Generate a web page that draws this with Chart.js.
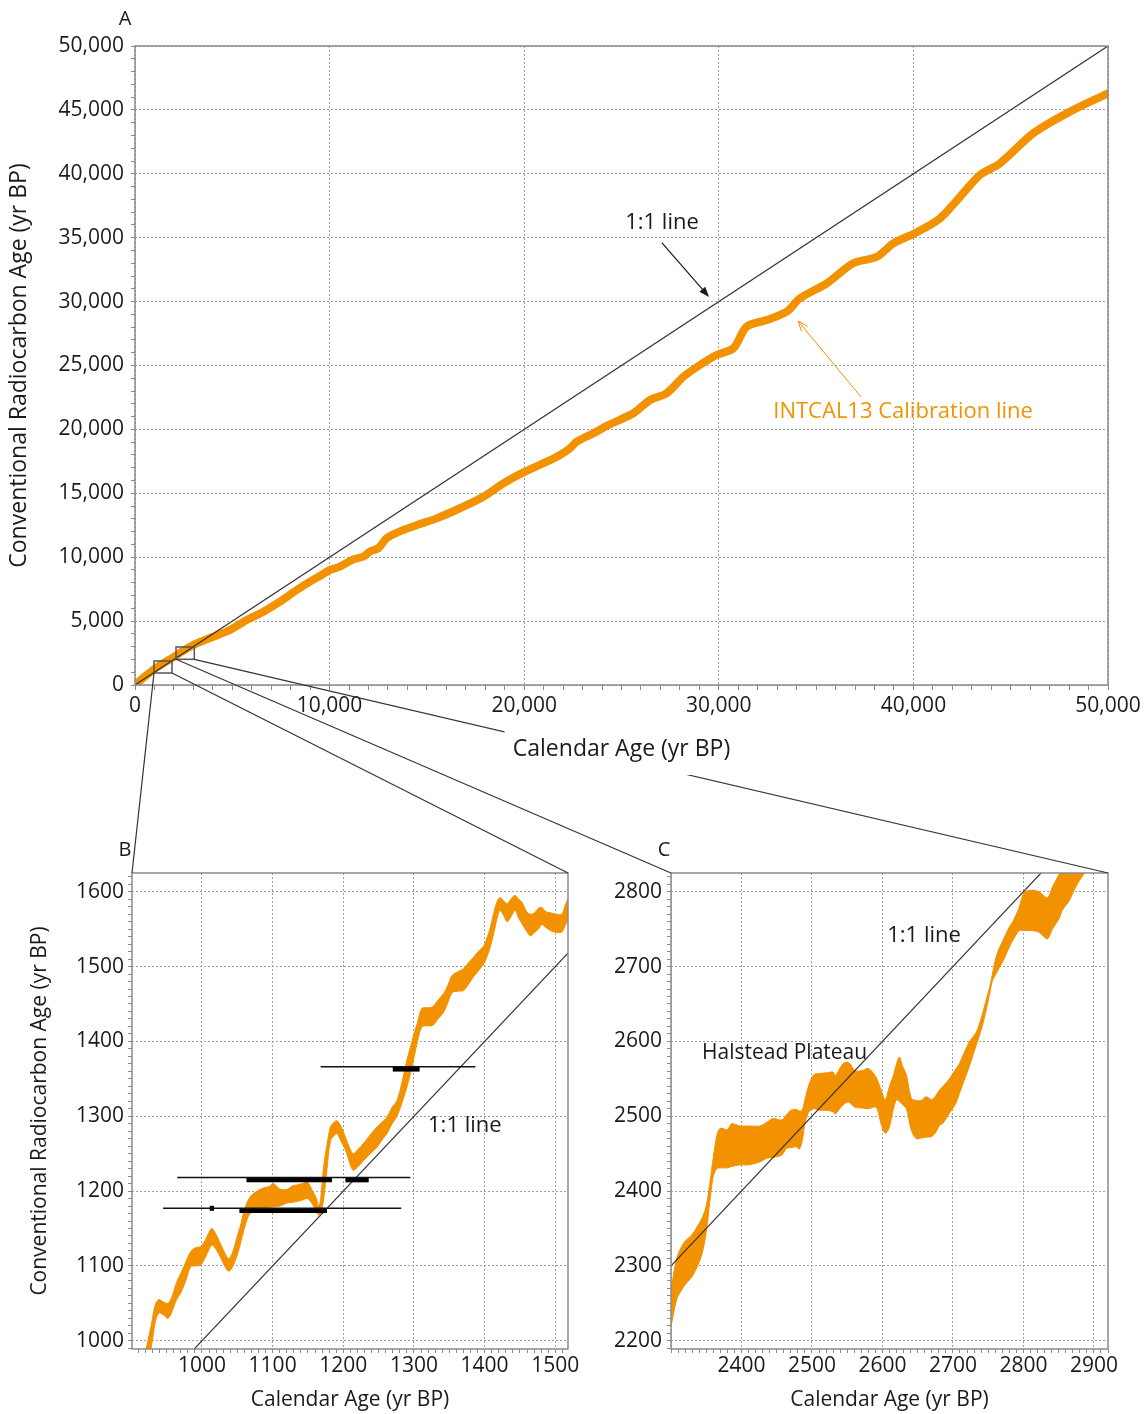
<!DOCTYPE html>
<html><head><meta charset="utf-8">
<script src="https://cdn.jsdelivr.net/npm/chart.js@4/dist/chart.umd.min.js"></script>
<style>
html,body{margin:0;padding:0;background:#fff;}
#wrap{position:relative;width:1145px;height:1414px;overflow:hidden;background:#fff;}
canvas{position:absolute;}
</style></head><body>
<div id="wrap">
<canvas id="cA" width="1145" height="790" style="left:0px;top:0px"></canvas>
<canvas id="cB" width="600" height="614" style="left:0px;top:800px"></canvas>
<canvas id="cC" width="545" height="614" style="left:600px;top:800px"></canvas>
<canvas id="ov" width="1145" height="1414" style="left:0px;top:0px;pointer-events:none"></canvas>
</div>
<script>
// ---------------- DATA ----------------
// Panel A: INTCAL13 calibration curve (calendar age vs conventional radiocarbon age)
const aCal = [0, 500, 1000, 1500, 2000, 2500, 3170, 4025, 4880, 5740, 6600, 7450, 8310, 8990, 9590, 10020, 10530, 11220, 11730, 12080, 12500, 12930, 13790, 14650, 15500, 16700, 17900, 18930, 20040, 21160, 21840, 22350, 22700, 23550, 24320, 25610, 26470, 27320, 28180, 29030, 29890, 30750, 31430, 32460, 33490, 34170, 35550, 36910, 38120, 38970, 40080, 41370, 42400, 43420, 44450, 46160, 47880, 50000];
const aRc  = [0, 650, 1250, 1750, 2200, 2700, 3260, 3780, 4300, 5090, 5740, 6520, 7430, 8090, 8610, 9000, 9260, 9830, 10040, 10450, 10700, 11480, 12130, 12600, 13040, 13830, 14730, 15780, 16690, 17470, 18000, 18520, 19040, 19690, 20340, 21260, 22300, 22830, 24120, 25040, 25820, 26350, 28040, 28560, 29210, 30260, 31430, 33000, 33510, 34560, 35350, 36520, 38210, 39910, 40820, 43170, 44730, 46300];

// Panel B: curve envelope 900-1520 cal BP
const bCal   = [920,928,934,939,945,952,958,964,970,977,984,990,998,1005,1010,1014,1020,1026,1032,1038,1044,1050,1054,1060,1068,1078,1087,1095,1101,1110,1120,1128,1134,1142,1149,1156,1162,1165,1168,1172,1177,1182,1187,1191,1196,1203,1209,1214,1220,1229,1238,1248,1256,1262,1269,1276,1283,1290,1295,1300,1305,1311,1318,1326,1334,1342,1348,1354,1362,1370,1377,1384,1391,1399,1404,1408,1413,1418,1422,1427,1432,1437,1443,1448,1453,1459,1465,1471,1476,1481,1487,1493,1500,1509,1514,1518,1522];
const bUpper = [985,1020,1048,1055,1052,1050,1060,1078,1090,1105,1119,1124,1126,1135,1145,1150,1142,1130,1118,1110,1120,1140,1152,1175,1192,1200,1204,1206,1210,1203,1202,1207,1208,1210,1212,1201,1190,1180,1190,1232,1262,1286,1292,1294,1288,1272,1258,1250,1255,1264,1275,1286,1293,1299,1312,1321,1345,1375,1392,1410,1425,1444,1445,1446,1455,1464,1475,1488,1493,1497,1505,1512,1520,1528,1540,1552,1572,1588,1592,1588,1584,1590,1595,1590,1586,1574,1570,1572,1578,1579,1573,1572,1570,1570,1582,1590,1595];
const bLower = [960,990,1025,1037,1035,1030,1040,1055,1064,1080,1099,1100,1101,1112,1122,1128,1122,1112,1100,1093,1100,1115,1128,1150,1170,1173,1175,1178,1179,1180,1184,1185,1186,1188,1190,1183,1172,1168,1170,1188,1230,1268,1274,1277,1268,1255,1238,1228,1232,1241,1250,1259,1270,1277,1290,1300,1318,1339,1357,1378,1400,1419,1421,1421,1430,1439,1452,1465,1467,1468,1476,1486,1494,1504,1515,1526,1545,1566,1575,1568,1560,1566,1575,1565,1557,1548,1541,1546,1550,1556,1552,1548,1546,1546,1555,1561,1565];

// Panel B: radiocarbon measurements (age +/- range) and calibrated ranges
const bMeasRc   = [1366, 1218, 1177];
const bMeasFrom = [1168, 965, 945];
const bMeasTo   = [1387, 1295, 1282];
const bRangeRc   = [1363, 1215, 1215, 1174, 1177];
const bRangeFrom = [1270, 1063, 1203, 1053, 1011];
const bRangeTo   = [1308, 1184, 1236, 1177, 1017];

// Panel C: curve envelope 2300-2920 cal BP (Hallstatt plateau)
const cCal   = [2300,2308,2315,2320,2330,2340,2345,2350,2355,2360,2365,2370,2380,2386,2398,2410,2426,2436,2445,2457,2464,2470,2478,2482,2486,2490,2495,2502,2511,2520,2530,2533,2544,2552,2561,2572,2580,2591,2598,2604,2610,2615,2620,2624,2629,2634,2641,2648,2655,2662,2670,2676,2681,2686,2695,2704,2709,2716,2723,2733,2737,2742,2747,2752,2756,2761,2766,2771,2780,2785,2794,2801,2813,2822,2834,2841,2846,2851,2855,2865,2874,2886,2900];
const cUpper = [2268,2310,2326,2333,2342,2357,2366,2380,2410,2445,2474,2484,2482,2490,2487,2487,2487,2492,2497,2495,2502,2508,2509,2507,2508,2522,2540,2555,2557,2558,2559,2554,2570,2572,2561,2561,2564,2552,2535,2522,2540,2553,2570,2579,2566,2555,2524,2521,2521,2526,2522,2528,2535,2540,2550,2563,2570,2585,2599,2612,2622,2637,2655,2672,2690,2712,2725,2735,2753,2760,2779,2799,2802,2800,2792,2806,2815,2824,2832,2845,2855,2868,2880];
const cLower = [2219,2255,2268,2275,2286,2305,2320,2345,2385,2420,2430,2431,2431,2433,2435,2435,2439,2444,2445,2448,2457,2458,2459,2456,2466,2490,2505,2510,2508,2508,2506,2503,2515,2519,2512,2511,2510,2512,2490,2477,2486,2508,2522,2520,2515,2510,2481,2470,2471,2472,2473,2479,2488,2491,2504,2517,2530,2548,2566,2595,2606,2622,2641,2663,2681,2690,2699,2707,2726,2735,2748,2748,2748,2746,2737,2750,2757,2765,2775,2788,2806,2824,2840];

// Axis ranges [min, max]
const aRangeX = [0, 50000], aRangeY = [0, 50000];
const bRangeX = [901, 1518], bRangeY = [989, 1625];
const cRangeX = [2300, 2920], cRangeY = [2189, 2825];
// Zoom boxes drawn on panel A (cal min, cal max, rc min, rc max)
const zoomBoxB = [976, 1901, 939, 1878];
const zoomBoxC = [2107, 3047, 2011, 2973];

const T_Y = 'Conventional Radiocarbon Age (yr BP)';
const T_X = 'Calendar Age (yr BP)';

// ---------------- STYLE / HELPERS ----------------
const FONT = "'Open Sans', 'DejaVu Sans', sans-serif";
const ORANGE = '#F39200';
const INK = '#1a1a1a';
Chart.defaults.font.family = FONT;
Chart.defaults.color = INK;

const pts = (xs, ys) => xs.map((x, i) => ({x: x, y: ys[i]}));
const fmtComma = v => Math.round(v).toLocaleString('en-US');
const fmtPlain = v => String(Math.round(v));

function axis(o) {
  return {
    type: 'linear', position: o.pos, min: o.range[0], max: o.range[1],
    afterFit(s) { if (o.pos === 'left') s.width = o.size; else s.height = o.size; },
    ticks: {
      stepSize: o.minor, autoSkip: false, includeBounds: false, maxRotation: 0, minRotation: 0,
      padding: o.pad, font: {size: o.fs}, color: INK,
      callback(v) { return (Math.abs(v % o.major) < 1e-6 && v >= o.labelMin) ? o.fmt(v) : ''; }
    },
    grid: {
      color(ctx) { const v = ctx.tick ? ctx.tick.value : null; return (v !== null && Math.abs(v % o.major) < 1e-6) ? '#a0a0a0' : 'rgba(0,0,0,0)'; },
      lineWidth: 1, tickColor: '#8a8a8a', tickLength: o.tl || 4, tickWidth: 1, drawTicks: true
    },
    border: {display: false, dash: [2, 2]},
    title: o.title ? {display: true, text: o.title, font: {size: o.tfs}, color: INK, padding: o.tpad} : {display: false}
  };
}

const framePlugin = {
  id: 'frame',
  afterDatasetsDraw(chart) {
    const {ctx, chartArea: a} = chart;
    ctx.save(); ctx.strokeStyle = '#8a8a8a'; ctx.lineWidth = 1.5;
    ctx.strokeRect(a.left, a.top, a.right - a.left, a.bottom - a.top);
    ctx.restore();
  }
};

function arrow(ctx, x0, y0, x1, y1, color, width, filled) {
  const ang = Math.atan2(y1 - y0, x1 - x0);
  const L = 11, spread = 0.36;
  ctx.save(); ctx.strokeStyle = color; ctx.fillStyle = color; ctx.lineWidth = width;
  ctx.beginPath(); ctx.moveTo(x0, y0);
  ctx.lineTo(filled ? x1 - Math.cos(ang) * L * 0.7 : x1, filled ? y1 - Math.sin(ang) * L * 0.7 : y1);
  ctx.stroke();
  const p1 = [x1 - L * Math.cos(ang - spread), y1 - L * Math.sin(ang - spread)];
  const p2 = [x1 - L * Math.cos(ang + spread), y1 - L * Math.sin(ang + spread)];
  ctx.beginPath();
  if (filled) { ctx.moveTo(x1, y1); ctx.lineTo(p1[0], p1[1]); ctx.lineTo(p2[0], p2[1]); ctx.closePath(); ctx.fill(); }
  else { ctx.moveTo(p1[0], p1[1]); ctx.lineTo(x1, y1); ctx.lineTo(p2[0], p2[1]); ctx.stroke(); }
  ctx.restore();
}

function textAt(ctx, txt, x, y, size, color, align) {
  ctx.save(); ctx.font = size + 'px ' + FONT; ctx.fillStyle = color;
  ctx.textAlign = align || 'center'; ctx.textBaseline = 'middle';
  ctx.fillText(txt, x, y); ctx.restore();
}

const lineDs = (data, color, width, extra) => Object.assign({
  data: data, borderColor: color, backgroundColor: color, borderWidth: width,
  pointRadius: 0, pointHoverRadius: 0, fill: false, clip: 0, tension: 0
}, extra || {});

const baseOpts = (scales, padding) => ({
  responsive: false, animation: false, devicePixelRatio: 1, events: [],
  layout: {padding: padding},
  plugins: {legend: {display: false}, tooltip: {enabled: false}},
  scales: scales
});

// ---------------- PANEL A ----------------
const annA = {
  id: 'annA',
  afterDatasetsDraw(chart) {
    const {ctx, scales: {x, y}} = chart;
    textAt(ctx, '1:1 line', x.getPixelForValue(27080), y.getPixelForValue(36150), 22, INK);
    arrow(ctx, x.getPixelForValue(27080), y.getPixelForValue(34590), x.getPixelForValue(29500), y.getPixelForValue(30360), INK, 1.2, true);
    textAt(ctx, 'INTCAL13 Calibration line', x.getPixelForValue(39470), y.getPixelForValue(21360), 22, ORANGE);
    arrow(ctx, x.getPixelForValue(37310), y.getPixelForValue(22540), x.getPixelForValue(34070), y.getPixelForValue(28480), ORANGE, 1, false);
  }
};
const chartA = new Chart(document.getElementById('cA'), {
  type: 'line',
  data: {datasets: [
    lineDs(pts(aRangeX, aRangeY), '#333', 1.2),
    lineDs(pts(aCal, aRc), ORANGE, 8, {tension: 0.3, borderCapStyle: 'round', borderJoinStyle: 'round'})
  ]},
  options: baseOpts({
    x: axis({pos: 'bottom', range: aRangeX, size: 105, minor: 1000, major: 10000, labelMin: 0, fmt: fmtComma, pad: 3, fs: 21, tl: 5, title: T_X, tfs: 23, tpad: {top: 0, bottom: 27}}),
    y: axis({pos: 'left', range: aRangeY, size: 135, minor: 1000, major: 5000, labelMin: 0, fmt: fmtComma, pad: 7, fs: 21, title: T_Y, tfs: 23, tpad: {top: 6, bottom: 0}})
  }, {top: 46, right: 37, left: 0, bottom: 0}),
  plugins: [framePlugin, annA]
});

// ---------------- PANEL B ----------------
const annB = {
  id: 'annB',
  afterDatasetsDraw(chart) {
    const {ctx, scales: {x, y}} = chart;
    textAt(ctx, '1:1 line', x.getPixelForValue(1372), y.getPixelForValue(1287), 22, INK);
  }
};
const bDatasets = [];
bMeasRc.forEach((rc, i) => bDatasets.push(lineDs(pts([bMeasFrom[i], bMeasTo[i]], [rc, rc]), '#111', 1.5)));
bRangeRc.forEach((rc, i) => bDatasets.push(lineDs(pts([bRangeFrom[i], bRangeTo[i]], [rc, rc]), '#000', 5, {borderCapStyle: 'butt'})));
bDatasets.push(lineDs(pts(bRangeX, bRangeX), '#333', 1.2));
bDatasets.push(lineDs(pts(bCal, bLower), ORANGE, 1, {tension: 0.35}));
bDatasets.push(lineDs(pts(bCal, bUpper), ORANGE, 1, {tension: 0.35, fill: '-1'}));
const chartB = new Chart(document.getElementById('cB'), {
  type: 'line',
  data: {datasets: bDatasets},
  options: baseOpts({
    x: axis({pos: 'bottom', range: bRangeX, size: 65, minor: 10, major: 100, labelMin: 1000, fmt: fmtPlain, pad: 0, fs: 21, title: T_X, tfs: 21, tpad: {top: 0, bottom: 1}}),
    y: axis({pos: 'left', range: bRangeY, size: 132, minor: 10, major: 100, labelMin: 1000, fmt: fmtPlain, pad: 4, fs: 21, title: T_Y, tfs: 21, tpad: {top: 27, bottom: 0}})
  }, {top: 73, right: 32, left: 0, bottom: 0}),
  plugins: [framePlugin, annB]
});

// ---------------- PANEL C ----------------
const annC = {
  id: 'annC',
  afterDatasetsDraw(chart) {
    const {ctx, scales: {x, y}} = chart;
    textAt(ctx, '1:1 line', x.getPixelForValue(2659), y.getPixelForValue(2741), 22, INK);
    textAt(ctx, 'Halstead Plateau', x.getPixelForValue(2344), y.getPixelForValue(2584), 21, INK, 'left');
  }
};
const chartC = new Chart(document.getElementById('cC'), {
  type: 'line',
  data: {datasets: [
    lineDs(pts(cRangeX, cRangeX), '#333', 1.2),
    lineDs(pts(cCal, cLower), ORANGE, 1, {tension: 0.3}),
    lineDs(pts(cCal, cUpper), ORANGE, 1, {tension: 0.3, fill: '-1'})
  ]},
  options: baseOpts({
    x: axis({pos: 'bottom', range: cRangeX, size: 65, minor: 10, major: 100, labelMin: 2400, fmt: fmtPlain, pad: 0, fs: 21, title: T_X, tfs: 21, tpad: {top: 0, bottom: 1}}),
    y: axis({pos: 'left', range: cRangeY, size: 71, minor: 10, major: 100, labelMin: 2200, fmt: fmtPlain, pad: 5, fs: 21})
  }, {top: 73, right: 37, left: 0, bottom: 0}),
  plugins: [framePlugin, annC]
});

// ---------------- OVERLAY: zoom boxes, connectors, panel letters ----------------
function drawOverlay() {
  const ov = document.getElementById('ov').getContext('2d');
  ov.clearRect(0, 0, 1145, 1414);
  const offs = {A: [0, 0], B: [0, 800], C: [600, 800]};
  const pA = (vx, vy) => [offs.A[0] + chartA.scales.x.getPixelForValue(vx), offs.A[1] + chartA.scales.y.getPixelForValue(vy)];
  const areaOf = (ch, o) => ({l: o[0] + ch.chartArea.left, r: o[0] + ch.chartArea.right, t: o[1] + ch.chartArea.top});
  const aB = areaOf(chartB, offs.B), aC = areaOf(chartC, offs.C);
  const bx0 = pA(zoomBoxB[0], zoomBoxB[3]), bx1 = pA(zoomBoxB[1], zoomBoxB[2]);
  const cx0 = pA(zoomBoxC[0], zoomBoxC[3]), cx1 = pA(zoomBoxC[1], zoomBoxC[2]);

  ov.save();
  ov.strokeStyle = '#555'; ov.lineWidth = 1.5;
  ov.strokeRect(bx0[0], bx0[1], bx1[0] - bx0[0], bx1[1] - bx0[1]);
  ov.strokeRect(cx0[0], cx0[1], cx1[0] - cx0[0], cx1[1] - cx0[1]);
  ov.restore();

  // clip away the area behind the A x-axis title
  const ca = chartA.chartArea;
  const tcx = (ca.left + ca.right) / 2;
  ov.save();
  ov.beginPath();
  ov.rect(0, 0, 1145, 1414);
  ov.rect(tcx - 117, 728, 235, 47);
  ov.clip('evenodd');
  ov.strokeStyle = '#333'; ov.lineWidth = 1.2;
  const seg = (p, q) => { ov.beginPath(); ov.moveTo(p[0], p[1]); ov.lineTo(q[0], q[1]); ov.stroke(); };
  seg([bx0[0], bx1[1]], [aB.l, aB.t]);
  seg([bx1[0], bx1[1]], [aB.r, aB.t]);
  seg([cx0[0], cx1[1]], [aC.l, aC.t]);
  seg([cx1[0], cx1[1]], [aC.r, aC.t]);
  ov.restore();

  textAt(ov, 'A', 125, 19, 20, INK);
  textAt(ov, 'B', 125, 850, 20, INK);
  textAt(ov, 'C', 664, 850, 20, INK);
}
drawOverlay();
</script>
</body></html>
